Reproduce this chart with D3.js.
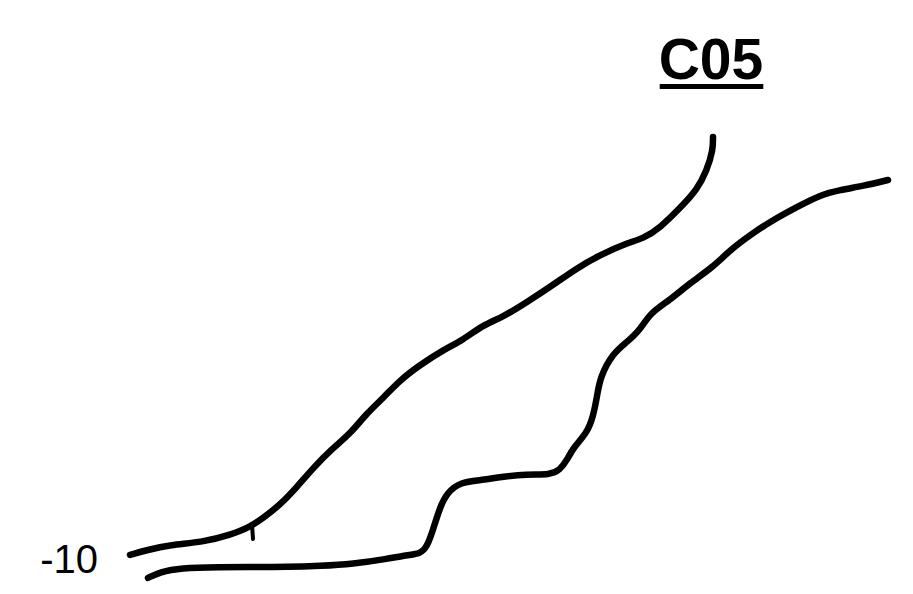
<!DOCTYPE html>
<html>
<head>
<meta charset="utf-8">
<script src="https://cdn.jsdelivr.net/npm/d3@7"></script>
<style>
  html, body { margin: 0; padding: 0; background: #fff; }
  svg { display: block; }
</style>
</head>
<body>
<svg id="chart" width="913" height="594"></svg>
<script>
// ---- data ----
const title = "C05";
const yTickValues = [-10];

const seriesAX = [0, 1.7, 4.0, 7.3, 10.0, 12.0, 13.3, 15.0, 16.7, 18.3, 20.3, 22.0, 23.7, 25.3, 27.0, 29.0, 31.3, 33.3, 35.3, 37.3, 39.7, 42.3, 44.7, 47.0, 49.7, 51.3, 53.0, 55.0, 56.7, 57.7, 58.3, 58.3];
const seriesAY = [-9.52, -9.05, -8.57, -8.29, -7.62, -6.86, -6.0, -4.76, -3.05, -1.24, 0.67, 2.0, 4.0, 5.4, 7.14, 8.57, 10.0, 10.95, 12.38, 13.14, 14.57, 16.19, 17.81, 19.05, 20.19, 20.6, 21.62, 23.52, 25.24, 27.14, 29.05, 30.29];

const spurX = [12.2, 12.3];
const spurY = [-6.6, -8.0];

const seriesBX = [1.8, 3.0, 5.0, 9.0, 12.3, 15.7, 19.0, 22.3, 25.7, 27.7, 29.0, 29.7, 30.3, 31.0, 31.7, 33.0, 35.3, 37.0, 39.7, 42.0, 43.0, 43.7, 44.3, 45.7, 46.3, 46.7, 47.0, 48.3, 49.7, 51.0, 52.0, 54.0, 56.0, 58.3, 60.0, 62.3, 64.3, 66.7, 69.0, 71.0, 73.3, 75.8];
const seriesBY = [-11.71, -11.14, -10.76, -10.67, -10.67, -10.67, -10.57, -10.38, -9.9, -9.52, -9.43, -8.76, -7.14, -4.95, -3.62, -2.57, -2.38, -2.1, -1.81, -1.9, -1.43, -0.48, 0.67, 2.1, 3.62, 5.52, 7.43, 9.71, 10.76, 11.9, 13.52, 14.76, 16.38, 17.9, 19.52, 21.14, 22.38, 23.62, 24.76, 25.24, 25.62, 26.19];

// ---- drawing ----
const svg = d3.select("#chart");
const x = d3.scaleLinear().domain([0, 76]).range([130, 890]);
const y = d3.scaleLinear().domain([-10, 30]).range([560, 140]);

const zip = (xs, ys) => xs.map((v, i) => ({x: v, y: ys[i]}));
const smooth = d3.line().x(d => x(d.x)).y(d => y(d.y)).curve(d3.curveBasis);
const straight = d3.line().x(d => x(d.x)).y(d => y(d.y));

[zip(seriesAX, seriesAY), zip(seriesBX, seriesBY)].forEach(pts => {
  svg.append("path")
    .datum(pts)
    .attr("d", smooth)
    .attr("fill", "none")
    .attr("stroke", "#000")
    .attr("stroke-width", 6.5)
    .attr("stroke-linecap", "round")
    .attr("stroke-linejoin", "round");
});
svg.append("path")
  .datum(zip(spurX, spurY))
  .attr("d", straight)
  .attr("fill", "none")
  .attr("stroke", "#000")
  .attr("stroke-width", 4)
  .attr("stroke-linecap", "round");

// y axis (label only)
const yAxis = d3.axisLeft(y).tickValues(yTickValues).tickSize(0).tickPadding(6).tickFormat(d3.format("d"));
const gy = svg.append("g").attr("transform", "translate(104,0)").call(yAxis);
gy.select(".domain").remove();
gy.selectAll("text")
  .attr("font-family", "'Liberation Sans', Arial, sans-serif")
  .attr("font-size", 40)
  .attr("fill", "#000")
  .attr("dy", "0.3em")
  .text(d => d < 0 ? "-" + Math.abs(d) : d);

// title with underline
const t = svg.append("text")
  .attr("x", 711)
  .attr("y", 79)
  .attr("text-anchor", "middle")
  .attr("font-family", "'Liberation Sans', Arial, sans-serif")
  .attr("font-weight", "bold")
  .attr("font-size", 57)
  .attr("fill", "#000")
  .text(title);
const bb = t.node().getBBox();
svg.append("rect")
  .attr("x", bb.x + 1)
  .attr("y", 84)
  .attr("width", bb.width - 1)
  .attr("height", 5)
  .attr("fill", "#000");
</script>
</body>
</html>
